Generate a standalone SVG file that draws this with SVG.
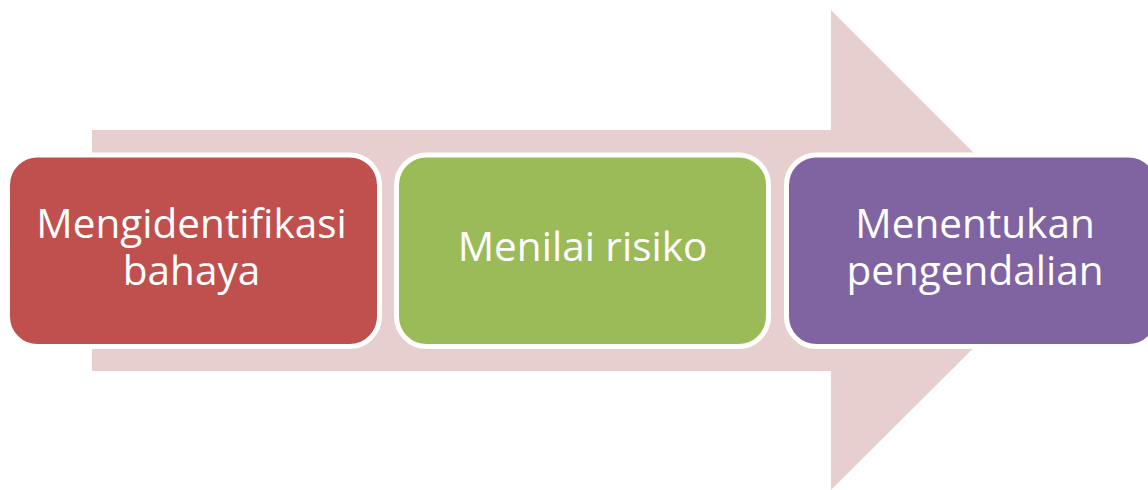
<svg xmlns="http://www.w3.org/2000/svg" width="1148" height="490" viewBox="0 0 1148 490">
<style>
.box{stroke:#FFFFFF;stroke-width:5}
.lbl{fill:#FFFFFF;font-family:"Open Sans","Noto Sans","Liberation Sans",sans-serif;font-size:40.5px;text-anchor:middle}
</style>
<rect width="1148" height="490" fill="#FFFFFF"/>
<g id="arrow">
<polygon points="92,130 831,130 831,10 1071.5,250.5 831,490 831,371 92,371" fill="#E8CFCF"/>
</g>
<g id="node1">
<rect class="box" x="7.5" y="155" width="372" height="191.5" rx="30" fill="#C0504D"/>
<text class="lbl"><tspan x="191.5" y="238">Mengidentifikasi</tspan><tspan x="191.5" y="285">bahaya</tspan></text>
</g>
<g id="node2">
<rect class="box" x="396.5" y="155" width="372" height="191.5" rx="30" fill="#9BBB59"/>
<text class="lbl" x="582.5" y="261">Menilai risiko</text>
</g>
<g id="node3">
<rect class="box" x="786.5" y="155" width="372" height="191.5" rx="30" fill="#8064A2"/>
<text class="lbl"><tspan x="975" y="238">Menentukan</tspan><tspan x="975" y="285">pengendalian</tspan></text>
</g>
<g id="connectors"></g>
</svg>
